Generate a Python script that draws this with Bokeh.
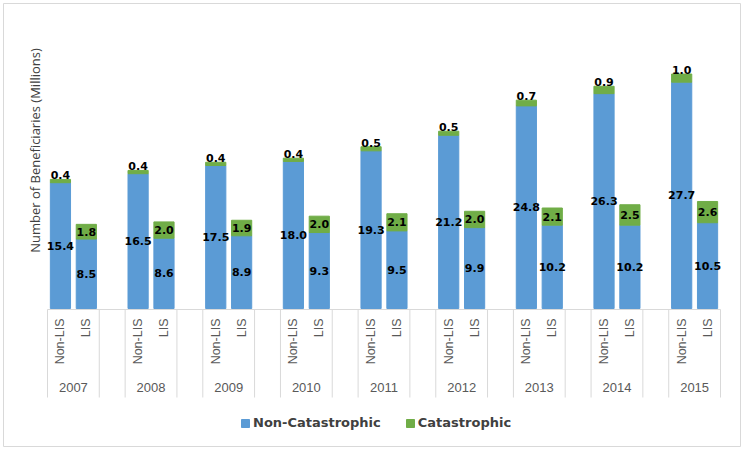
import math
from bokeh.plotting import figure
from bokeh.models import ColumnDataSource, Range1d, Legend, LegendItem
from bokeh.core.properties import value
from bokeh.embed import file_html
from bokeh.resources import INLINE

# ---------------- data ----------------
years = ["2007", "2008", "2009", "2010", "2011", "2012", "2013", "2014", "2015"]
groups = ["Non-LIS", "LIS"]
non_lis_noncat = [15.4, 16.5, 17.5, 18.0, 19.3, 21.2, 24.8, 26.3, 27.7]
non_lis_cat = [0.4, 0.4, 0.4, 0.4, 0.5, 0.5, 0.7, 0.9, 1.0]
lis_noncat = [8.5, 8.6, 8.9, 9.3, 9.5, 9.9, 10.2, 10.2, 10.5]
lis_cat = [1.8, 2.0, 1.9, 2.0, 2.1, 2.0, 2.1, 2.5, 2.6]
series = ["Non-Catastrophic", "Catastrophic"]
y_title = "Number of Beneficiaries (Millions)"

# ---------------- layout / style ----------------
BLUE = "#5B9BD5"
GREEN = "#70AD47"
GRID = "#d9d9d9"
W, H = 743, 450
MB = 3                         # border inset
FW, FH = W - 2 * MB, H - 2 * MB - 1
SLOTS = 3                      # two categories + one blank per year
n_slots = len(years) * SLOTS - 1
CAT_PX = 673 / n_slots
LEFT_PX = 44                   # frame-left to first category edge
BASE_PX = 305                  # frame-top to baseline
PPU = 8.17

x0 = -LEFT_PX / CAT_PX
x1 = x0 + FW / CAT_PX
y1 = BASE_PX / PPU
y0 = y1 - FH / PPU


def below(px):
    return -px / PPU


xs, nc, ct, ncmid, nctxt, sub = [], [], [], [], [], []
above_x, above_y, above_t = [], [], []
in_x, in_y, in_t = [], [], []
for gi, yr in enumerate(years):
    pairs = [(non_lis_noncat[gi], non_lis_cat[gi]), (lis_noncat[gi], lis_cat[gi])]
    for si, (a, b) in enumerate(pairs):
        x = gi * SLOTS + si + 0.5
        xs.append(x)
        nc.append(a)
        ct.append(b)
        ncmid.append(a / 2)
        nctxt.append(f"{a:.1f}")
        sub.append(groups[si])
        if si == 0:
            above_x.append(x)
            above_y.append(a + b)
            above_t.append(f"{b:.1f}")
        else:
            in_x.append(x)
            in_y.append(a + b / 2)
            in_t.append(f"{b:.1f}")

src = ColumnDataSource(dict(x=xs, noncat=nc, cat=ct, ncmid=ncmid, nctxt=nctxt, sub=sub))

p = figure(width=W, height=H, x_range=Range1d(x0, x1), y_range=Range1d(y0, y1),
           x_axis_location=None, y_axis_location=None, toolbar_location=None,
           output_backend="svg", min_border_left=MB, min_border_top=MB,
           min_border_right=MB, min_border_bottom=MB + 1)
p.outline_line_color = GRID
p.outline_line_width = 1
p.background_fill_color = "white"
p.border_fill_color = "white"
p.grid.visible = False

rs = p.vbar_stack(["noncat", "cat"], x="x", width=0.78, color=[BLUE, GREEN], source=src)

LBL = dict(text_font=value("DejaVu Sans"), text_font_style="bold", text_font_size="11px",
           text_color="#000000")

p.text(x="x", y="ncmid", text="nctxt", source=src, text_align="center",
       text_baseline="middle", **LBL)
p.text(x=in_x, y=in_y, text=in_t, text_align="center", text_baseline="middle", **LBL)
p.text(x=above_x, y=above_y, text=above_t, text_align="center",
       text_baseline="bottom", y_offset=0, **LBL)

# category axis
p.segment(x0=[0], y0=[below(1)], x1=[n_slots], y1=[below(1)], line_color=GRID, line_width=1)
sep = []
for gi in range(len(years)):
    sep += [gi * SLOTS, gi * SLOTS + len(groups)]
p.segment(x0=sep, y0=[below(1)] * len(sep), x1=sep, y1=[below(89)] * len(sep),
          line_color=GRID, line_width=1)

p.text(x="x", y=below(10), text="sub", source=src, angle=math.pi / 2,
       text_align="right", text_baseline="middle", text_font=value("Liberation Sans"),
       text_font_size="12.5px", text_color="#595959")
p.text(x=[gi * SLOTS + len(groups) / 2 for gi in range(len(years))], y=below(79), text=years,
       text_align="center", text_baseline="middle", text_font=value("Liberation Sans"),
       text_font_size="13px", text_color="#595959")

# y title
p.text(x=[x0 + 31 / CAT_PX], y=[y1 - 147 / PPU], text=[y_title], angle=math.pi / 2,
       text_align="center", text_baseline="middle", text_font=value("Open Sans"),
       text_font_size="13px", text_color="#404040")

legend = Legend(items=[LegendItem(label=series[0], renderers=[rs[0]]),
                       LegendItem(label=series[1], renderers=[rs[1]])],
                orientation="horizontal", location=(237, 16), padding=0, margin=0,
                spacing=24, glyph_width=10, glyph_height=10, label_standoff=3,
                label_height=10, label_text_font="DejaVu Sans", label_text_font_style="bold",
                label_text_font_size="13px", label_text_color="#404040",
                border_line_color=None, background_fill_alpha=0)
p.add_layout(legend)

open("out.html", "w").write(file_html(p, INLINE))
